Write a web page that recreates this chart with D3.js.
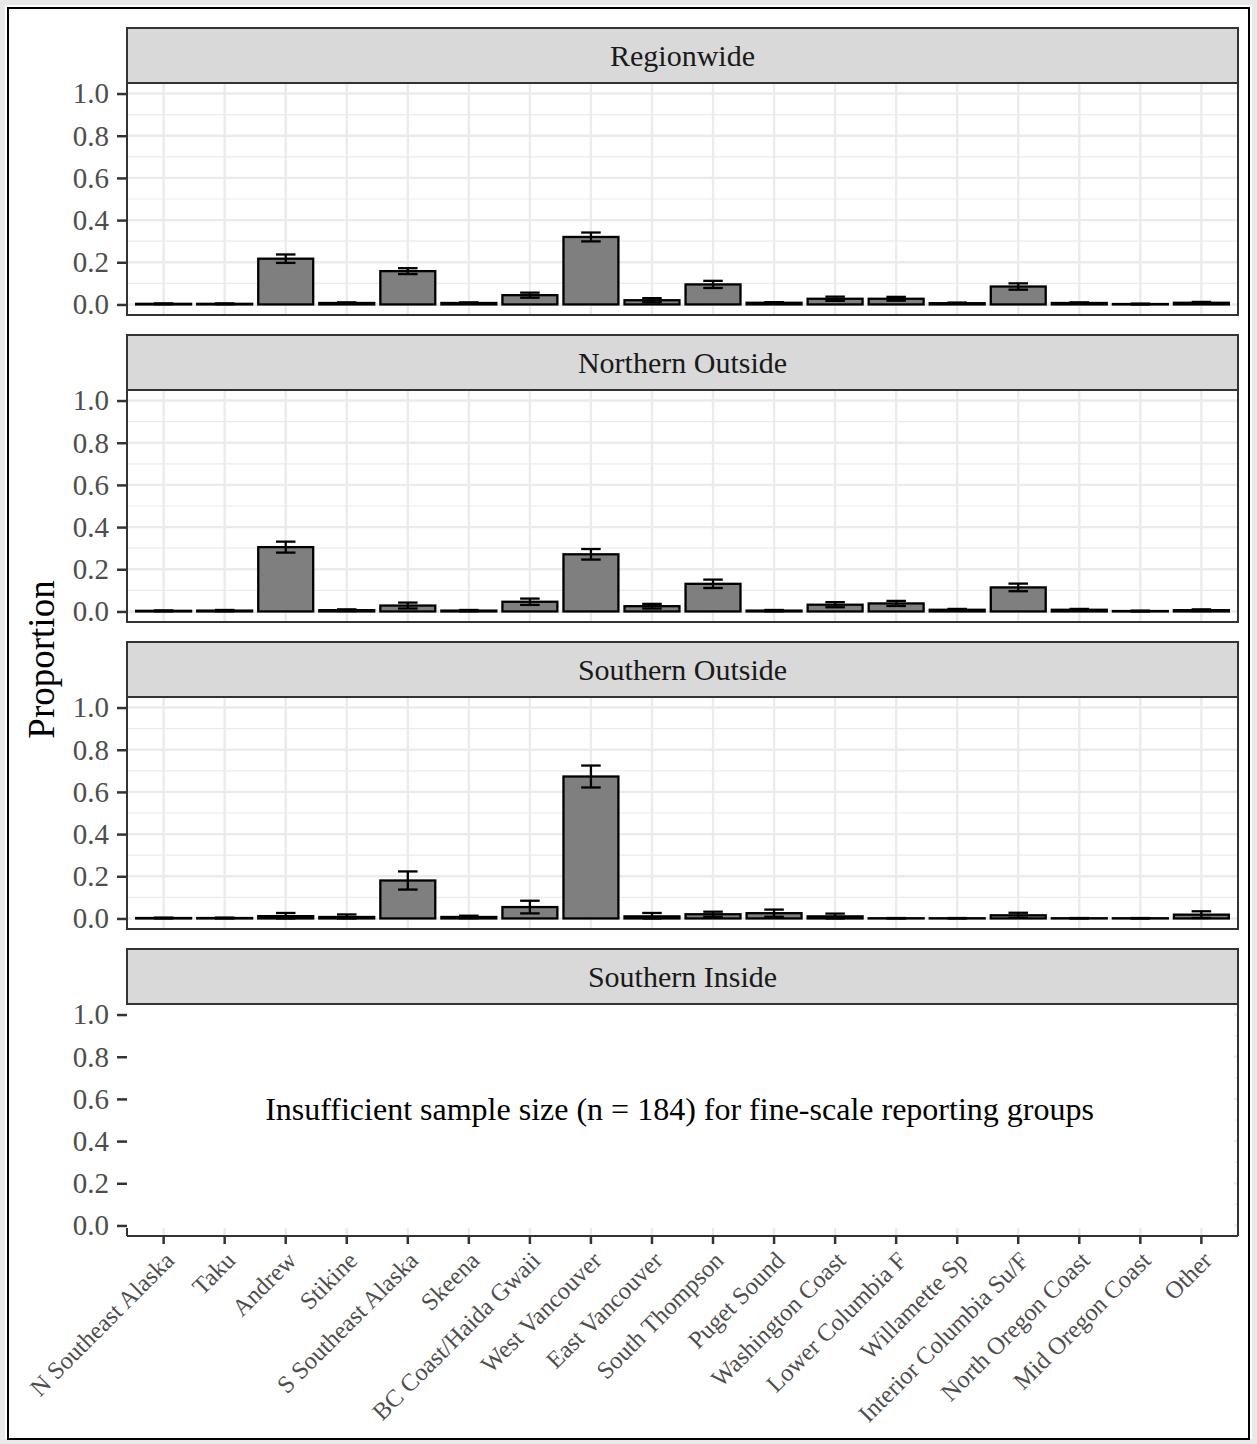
<!DOCTYPE html>
<html>
<head>
<meta charset="utf-8">
<script src="https://cdn.jsdelivr.net/npm/d3@7"></script>
<style>
  html, body { margin: 0; padding: 0; background: #ffffff; }
  svg { display: block; }
  text { font-family: "Liberation Serif", "DejaVu Serif", serif; }
</style>
</head>
<body>
<svg id="chart" width="1257" height="1444"></svg>
<script>
// Reporting groups along the x axis
const categories = [
  "N Southeast Alaska", "Taku", "Andrew", "Stikine", "S Southeast Alaska",
  "Skeena", "BC Coast/Haida Gwaii", "West Vancouver", "East Vancouver",
  "South Thompson", "Puget Sound", "Washington Coast", "Lower Columbia F",
  "Willamette Sp", "Interior Columbia Su/F", "North Oregon Coast",
  "Mid Oregon Coast", "Other"
];

// Facet titles, top to bottom
const panels = ["Regionwide", "Northern Outside", "Southern Outside", "Southern Inside"];

// Estimated proportions and their error half-widths per facet
const regionwide      = [0.003, 0.003, 0.217, 0.007, 0.158, 0.007, 0.044, 0.320, 0.020, 0.095, 0.008, 0.027, 0.027, 0.006, 0.085, 0.007, 0.002, 0.008];
const regionwideErr   = [0.002, 0.002, 0.020, 0.003, 0.014, 0.003, 0.012, 0.021, 0.010, 0.017, 0.003, 0.010, 0.009, 0.003, 0.015, 0.003, 0.002, 0.004];
const northernOutside    = [0.003, 0.004, 0.305, 0.006, 0.028, 0.004, 0.046, 0.271, 0.025, 0.131, 0.004, 0.032, 0.038, 0.008, 0.114, 0.008, 0.002, 0.006];
const northernOutsideErr = [0.002, 0.003, 0.026, 0.004, 0.014, 0.003, 0.015, 0.025, 0.011, 0.020, 0.003, 0.012, 0.012, 0.004, 0.018, 0.004, 0.002, 0.004];
const southernOutside    = [0.002, 0.002, 0.011, 0.007, 0.180, 0.007, 0.054, 0.673, 0.010, 0.020, 0.025, 0.010, 0.001, 0.001, 0.015, 0.001, 0.001, 0.018];
const southernOutsideErr = [0.002, 0.002, 0.015, 0.012, 0.043, 0.006, 0.030, 0.052, 0.016, 0.012, 0.017, 0.013, 0.001, 0.001, 0.012, 0.001, 0.001, 0.016];

const yTicks = [0, 0.2, 0.4, 0.6, 0.8, 1.0];
const yMinor = [0.1, 0.3, 0.5, 0.7, 0.9];

const noteText = "Insufficient sample size (n = 184) for fine-scale reporting groups";
const noteY = 0.55;

const series = [
  { values: regionwide, err: regionwideErr },
  { values: northernOutside, err: northernOutsideErr },
  { values: southernOutside, err: southernOutsideErr },
  null
];

const svg = d3.select("#chart");

// Page frame: faint outer margin, then a black border
svg.append("rect").attr("x", 0).attr("y", 0).attr("width", 1257).attr("height", 1444).attr("fill", "#e9e9e9");
svg.append("rect").attr("x", 5).attr("y", 5).attr("width", 1247).attr("height", 1434).attr("fill", "#ffffff");
svg.append("rect").attr("x", 8).attr("y", 8).attr("width", 1241).attr("height", 1431)
  .attr("fill", "none").attr("stroke", "#000").attr("stroke-width", 2);

const left = 127, right = 1238;
const stripH = 55, plotH = 232, firstTop = 28, step = 307;

// Discrete positions with 0.6 units of padding on each side
const x = d3.scalePoint().domain(categories).range([left, right]).padding(0.6);
const unit = x.step();
const cx = d => x(d);
const barW = unit * 0.9;
const capW = unit * 0.32;

const gridColor = "#ebebeb";
const inkColor = "#333333";

panels.forEach((title, pi) => {
  const stripTop = firstTop + pi * step;
  const plotTop = stripTop + stripH;
  const plotBottom = plotTop + plotH;

  const y = d3.scaleLinear().domain([-0.05, 1.05]).range([plotBottom, plotTop]);
  const g = svg.append("g");

  // Grid
  g.selectAll(".minor").data(yMinor).join("line")
    .attr("x1", left).attr("x2", right)
    .attr("y1", d => y(d)).attr("y2", d => y(d))
    .attr("stroke", gridColor).attr("stroke-width", 1.2);
  g.selectAll(".major").data(yTicks).join("line")
    .attr("x1", left).attr("x2", right)
    .attr("y1", d => y(d)).attr("y2", d => y(d))
    .attr("stroke", gridColor).attr("stroke-width", 2.4);
  g.selectAll(".vgrid").data(categories).join("line")
    .attr("x1", d => cx(d)).attr("x2", d => cx(d))
    .attr("y1", plotTop).attr("y2", plotBottom)
    .attr("stroke", gridColor).attr("stroke-width", 2.4);

  const s = series[pi];
  if (s) {
    const rows = categories.map((c, i) => ({ c, v: s.values[i], e: s.err[i] }));
    g.selectAll(".bar").data(rows).join("rect")
      .attr("x", d => cx(d.c) - barW / 2)
      .attr("width", barW)
      .attr("y", d => y(d.v))
      .attr("height", d => y(0) - y(d.v))
      .attr("fill", "#7f7f7f")
      .attr("stroke", "#000").attr("stroke-width", 2.3);
    const eb = g.selectAll(".err").data(rows).join("g");
    eb.append("line")
      .attr("x1", d => cx(d.c)).attr("x2", d => cx(d.c))
      .attr("y1", d => y(d.v + d.e)).attr("y2", d => y(Math.max(0, d.v - d.e)))
      .attr("stroke", "#000").attr("stroke-width", 2.3);
    eb.append("line")
      .attr("x1", d => cx(d.c) - capW / 2).attr("x2", d => cx(d.c) + capW / 2)
      .attr("y1", d => y(d.v + d.e)).attr("y2", d => y(d.v + d.e))
      .attr("stroke", "#000").attr("stroke-width", 2.3);
    eb.append("line")
      .attr("x1", d => cx(d.c) - capW / 2).attr("x2", d => cx(d.c) + capW / 2)
      .attr("y1", d => y(Math.max(0, d.v - d.e))).attr("y2", d => y(Math.max(0, d.v - d.e)))
      .attr("stroke", "#000").attr("stroke-width", 2.3);

    g.append("rect").attr("x", left).attr("y", plotTop)
      .attr("width", right - left).attr("height", plotH)
      .attr("fill", "none").attr("stroke", inkColor).attr("stroke-width", 2);
  } else {
    // Blank panel with a note in place of bars
    g.append("rect").attr("x", left - 2).attr("y", plotTop)
      .attr("width", right - left - 2).attr("height", y(-0.012) - plotTop)
      .attr("fill", "#ffffff");
    g.append("line").attr("x1", left).attr("x2", right)
      .attr("y1", plotBottom).attr("y2", plotBottom)
      .attr("stroke", inkColor).attr("stroke-width", 2);
    g.append("line").attr("x1", right).attr("x2", right)
      .attr("y1", plotTop).attr("y2", plotBottom)
      .attr("stroke", inkColor).attr("stroke-width", 2);
    g.append("line").attr("x1", left).attr("x2", left)
      .attr("y1", y(-0.012)).attr("y2", plotBottom)
      .attr("stroke", inkColor).attr("stroke-width", 2);
    g.append("text")
      .attr("x", (left + right) / 2 - 3).attr("y", y(noteY))
      .attr("text-anchor", "middle").attr("dominant-baseline", "central")
      .attr("font-size", 32).attr("fill", "#000")
      .text(noteText);

    // Category axis
    const xa = g.append("g");
    xa.selectAll("line").data(categories).join("line")
      .attr("x1", d => cx(d)).attr("x2", d => cx(d))
      .attr("y1", plotBottom).attr("y2", plotBottom + 8)
      .attr("stroke", inkColor).attr("stroke-width", 2.5);
    xa.selectAll("text").data(categories).join("text")
      .attr("transform", d => `translate(${cx(d) + 12},${plotBottom + 26}) rotate(-45)`)
      .attr("text-anchor", "end")
      .attr("font-size", 24.5).attr("fill", "#4d4d4d")
      .text(d => d);
  }

  // Strip
  g.append("rect").attr("x", left).attr("y", stripTop)
    .attr("width", right - left).attr("height", stripH)
    .attr("fill", "#d9d9d9").attr("stroke", inkColor).attr("stroke-width", 2);
  g.append("text")
    .attr("x", (left + right) / 2).attr("y", stripTop + stripH / 2)
    .attr("text-anchor", "middle").attr("dominant-baseline", "central")
    .attr("font-size", 30).attr("fill", "#1a1a1a")
    .text(title);

  // Proportion axis
  const ya = d3.axisLeft(y).tickValues(yTicks).tickFormat(d3.format(".1f")).tickSize(10).tickPadding(8);
  const ag = g.append("g").attr("transform", `translate(${left},0)`).call(ya);
  ag.select(".domain").remove();
  ag.selectAll(".tick line").attr("stroke", inkColor).attr("stroke-width", 2.5);
  ag.selectAll(".tick text")
    .attr("font-family", "Liberation Serif, serif")
    .attr("font-size", 29).attr("fill", "#4d4d4d");
});

// Shared y title
svg.append("text")
  .attr("transform", `translate(54,${(firstTop + stripH + firstTop + 3 * step + stripH + plotH) / 2}) rotate(-90)`)
  .attr("text-anchor", "middle")
  .attr("font-size", 37).attr("fill", "#000")
  .text("Proportion");
</script>
</body>
</html>
